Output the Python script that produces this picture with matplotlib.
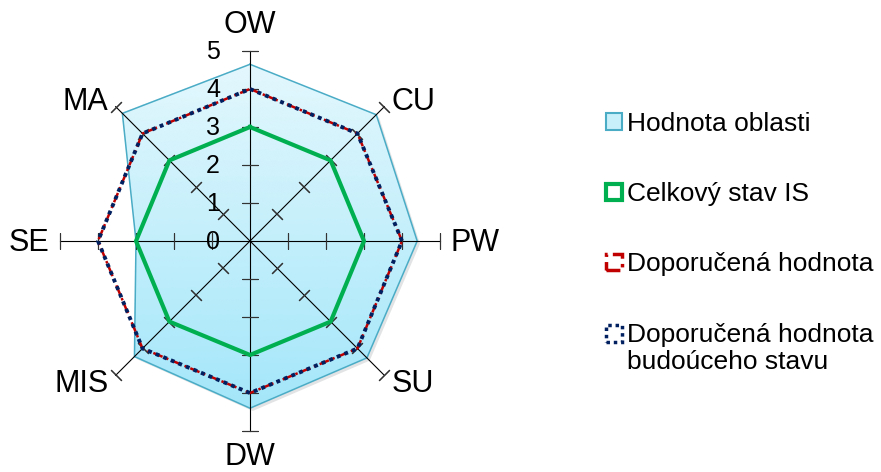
import numpy as np
import matplotlib
matplotlib.use('Agg')
import matplotlib.pyplot as plt
import matplotlib.patheffects as pe
from matplotlib.colors import LinearSegmentedColormap
from matplotlib.patches import Patch, Rectangle
from matplotlib.legend_handler import HandlerPatch

plt.rcParams['font.family'] = ['Liberation Sans', 'DejaVu Sans']

categories = ['OW', 'CU', 'PW', 'SU', 'DW', 'MIS', 'SE', 'MA']
hodnota_oblasti = [4.65, 4.7, 4.4, 4.35, 4.4, 4.3, 3.0, 4.75]
celkovy_stav = [3, 3, 3, 3, 3, 3, 3, 3]
doporucena = [4, 4, 4, 4, 4, 4, 4, 4]
doporucena_budouci = [4, 4, 4, 4, 4, 4, 4, 4]
radial_ticks = [0, 1, 2, 3, 4, 5]
legend_labels = ['Hodnota oblasti', 'Celkový stav IS', 'Doporučená hodnota',
                 'Doporučená hodnota\nbudoúceho stavu']

blue_edge = '#4bacc6'
green = '#00b050'
red = '#c00000'
navy = '#002060'
red_dash = (0, (4, 1.5, 1, 1.5))
navy_dot = (0, (1, 1.1))

n = len(categories)
angles = np.linspace(0, 2 * np.pi, n, endpoint=False)


def closed(v):
    return np.append(v, v[0])


theta = closed(angles)

fig = plt.figure(figsize=(8.81, 4.72), dpi=100)
ax = fig.add_axes([60 / 881, 41 / 472, 380 / 881, 380 / 472], projection='polar')
ax.set_theta_zero_location('N')
ax.set_theta_direction(-1)
ax.set_ylim(0, 5)
ax.set_axis_off()

# filled area with a soft shadow and vertical gradient
poly = ax.fill(theta, closed(hodnota_oblasti), facecolor='#c8f0fb', edgecolor='none', zorder=1,
               path_effects=[pe.SimplePatchShadow(offset=(2, -2), alpha=0.15), pe.Normal()])[0]
tg = np.linspace(0, 2 * np.pi, 181)
rg = np.linspace(0, 5, 60)
T, R = np.meshgrid(tg, rg)
cmap = LinearSegmentedColormap.from_list('area', ['#9fe5f9', '#e6f8fd'])
mesh = ax.pcolormesh(T, R, R * np.cos(T), cmap=cmap, vmin=-5, vmax=5,
                     shading='gouraud', zorder=1.5)
mesh.set_clip_path(poly)
ax.plot(theta, closed(hodnota_oblasti), color=blue_edge, lw=1.1, zorder=2)

# spokes with perpendicular ticks
for a in angles:
    ax.plot([a, a], [0, 5], color='black', lw=0.8, zorder=3, clip_on=False)
    ax.plot([a] * 5, radial_ticks[1:], ls='none', marker=(2, 2, 90 - np.degrees(a)),
            ms=11, mew=0.8, color='#333333', zorder=3, clip_on=False)

ax.plot(theta, closed(celkovy_stav), color=green, lw=3, zorder=4, clip_on=False)
ax.plot(theta, closed(doporucena), color=red, lw=1.8, ls=red_dash, zorder=5, clip_on=False)
ax.plot(theta, closed(doporucena_budouci), color=navy, lw=2.8, ls=navy_dot,
        dash_capstyle='butt', zorder=6, clip_on=False)

# radial tick labels on the OW spoke
for v in radial_ticks:
    ax.annotate(str(v), xy=(0, v), xytext=(-21.6, -1), textcoords='offset points',
                ha='right', va='center', fontsize=18, annotation_clip=False, zorder=7)

# category labels
for a, name in zip(angles, categories):
    dx, dy = np.sin(a), np.cos(a)
    if dx > 0.1:
        ha = 'left'
    elif dx < -0.1:
        ha = 'right'
    else:
        ha = 'center'
    oy = 19 * dy if abs(dx) < 0.1 else 6.4 * dy - 1.5
    ax.annotate(name, xy=(a, 5), xytext=(7.5 * dx, oy), textcoords='offset points',
                ha=ha, va='center', fontsize=22, annotation_clip=False)

# legend
handles = [
    Patch(facecolor='#c8f0fb', edgecolor=blue_edge, linewidth=1.5),
    Patch(facecolor='white', edgecolor=green, linewidth=3),
    Patch(facecolor='white', edgecolor=red, linewidth=2.5, linestyle=red_dash),
    Patch(facecolor='white', edgecolor=navy, linewidth=2.5, linestyle=navy_dot),
]


def top_square(legend, orig_handle, xdescent, ydescent, width, height, fontsize):
    return Rectangle((-xdescent, -ydescent + 0.58 * fontsize), width, height)


leg = fig.legend(handles, legend_labels, loc='upper left', bbox_to_anchor=(606 / 881, 360 / 472),
                 frameon=False, fontsize=19, borderpad=0, borderaxespad=0,
                 handlelength=0.6, handleheight=0.6, handletextpad=0.21, labelspacing=1.75,
                 handler_map={handles[3]: HandlerPatch(patch_func=top_square)})

fig.savefig('out.png', dpi=100)
